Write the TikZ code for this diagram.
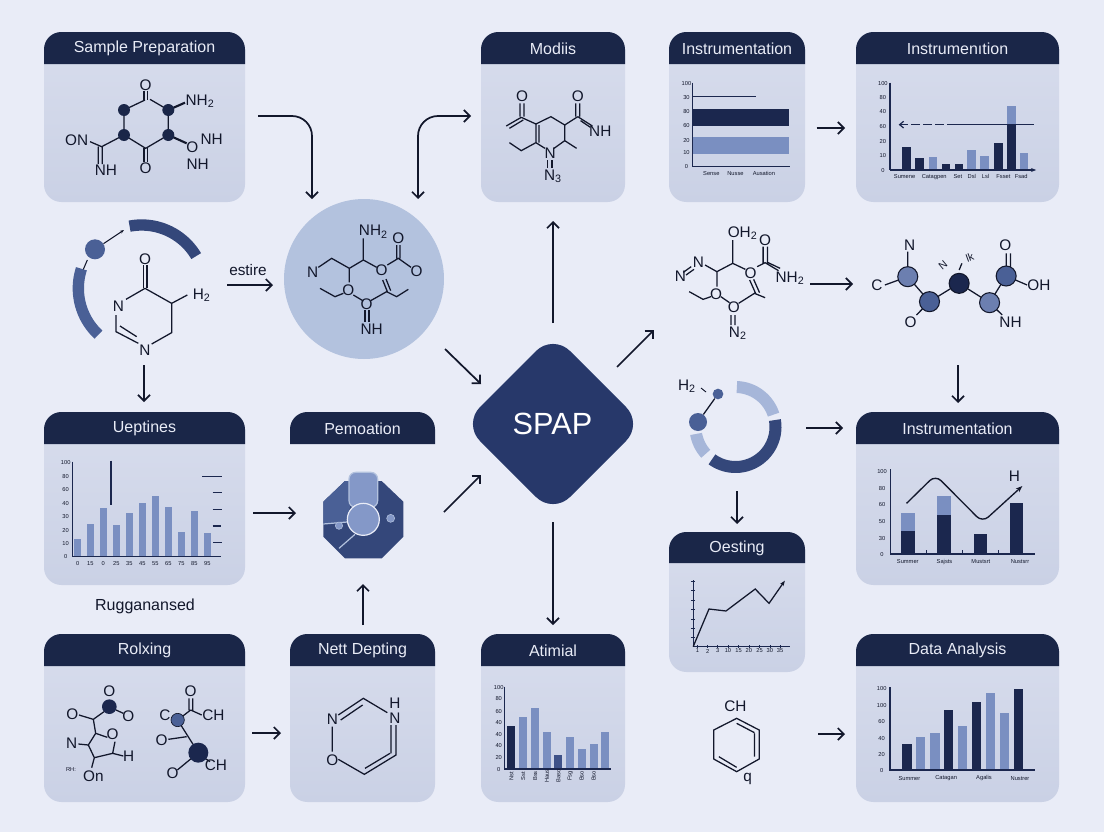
\documentclass[tikz,border=0pt]{standalone}
\usepackage{fontspec}
\setmainfont{Liberation Sans}
\usetikzlibrary{arrows.meta}
\definecolor{bgc}{HTML}{E9ECF7}
\definecolor{cardtop}{HTML}{D8DDED}
\definecolor{cardbot}{HTML}{CAD1E5}
\definecolor{headc}{HTML}{1A2648}
\definecolor{dk}{HTML}{1B274E}
\definecolor{lt}{HTML}{7A8FC1}
\definecolor{md}{HTML}{3F5288}
\definecolor{navy}{HTML}{27386A}
\definecolor{ink}{HTML}{12172B}
\definecolor{disc}{HTML}{B3C2DE}
\definecolor{ringd}{HTML}{34477A}
\definecolor{ringm}{HTML}{4A6096}
\definecolor{ringl}{HTML}{A6B6D9}
\definecolor{octl}{HTML}{8498C8}
\newcount\lblno
\newcommand\lbl[4][atom]{\global\advance\lblno by 1 \node[#1] (t\the\lblno) at (#2,#3) {#4};}
\newcommand\card[7]{%
  \path[cardbody,rounded corners=13pt] (#2,#3) rectangle (#4,#5);
  \fill[headc] (#2,#6) [rounded corners=13pt] -- (#2,#3) -- (#4,#3) [sharp corners] -- (#4,#6) -- cycle;
  \node[headtext] (#1) at ({(#2+#4)/2},{(#3+#6)/2+.5}) {#7};}
\newcommand\parc[6]{\draw[line width=#4pt,color=#5] plot[domain=#6,samples=40,smooth] ({#1+#3*cos(\x)},{#2-#3*sin(\x)});}
\newcommand\arr[5]{\coordinate (#1s) at (#2,#3); \coordinate (#1e) at (#4,#5); \draw[conn] (#1s) -- (#1e);}
\tikzset{
  zs/.style={shift={(#1)},x=.25pt,y=-.25pt},
  zw/.style={shift={(#1)},x=.2964pt,y=-.25pt},
  cardbody/.style={top color=cardtop,bottom color=cardbot},
  headtext/.style={text=bgc,font=\fontsize{12}{14}\selectfont,inner sep=0pt},
  atom/.style={text=ink,font=\fontsize{11.5}{14}\selectfont,inner sep=0pt},
  plain/.style={text=ink,font=\fontsize{12}{14}\selectfont,inner sep=0pt},
  small/.style={text=ink,font=\fontsize{8}{10}\selectfont,inner sep=0pt},
  tick/.style={text=ink,font=\fontsize{4.3}{5}\selectfont,inner sep=0pt},
  ball/.style={circle,draw=ink,line width=.8pt,minimum size=15pt,inner sep=0pt},
  bond/.style={draw=ink,line width=.95pt},
  axis/.style={draw=dk,line width=.9pt},
  conn/.style={draw=ink,line width=1.3pt,-{Straight Barb[length=4.5pt,width=9pt]}},
}
\begin{document}
\begin{tikzpicture}[x=.75pt,y=-.75pt]
\useasboundingbox (0,0) rectangle (1104,832);
\fill[bgc] (0,0) rectangle (1104,832);
% cards
\card{cSample}{44}{32}{245}{202}{64}{Sample Preparation}
\card{cModiis}{481}{32}{625}{202}{64}{Modiis}
\card{cInstA}{669}{32}{805}{202}{64}{Instrumentation}
\card{cInstB}{856}{32}{1059}{202}{64}{Instrumenıtion}
\card{cUept}{44}{412}{245}{585}{444}{Ueptines}
\card{cRol}{44}{634}{245}{802}{666}{Rolxing}
\card{cNett}{290}{634}{435}{802}{666}{Nett Depting}
\card{cAti}{481}{634}{625}{802}{666}{Atimial}
\card{cOes}{669}{532}{805}{672}{563}{Oesting}
\card{cInstC}{856}{412}{1059}{585}{444}{Instrumentation}
\card{cData}{856}{634}{1059}{802}{666}{Data Analysis}
% header without body
\fill[headc] (290,444) [rounded corners=13pt] -- (290,412) -- (435,412) [sharp corners] -- (435,444) -- cycle;
\node[headtext] (cPem) at (362.5,428.5) {Pemoation};
% central disc and diamond
\node[circle,fill=disc,minimum size=120pt,inner sep=0pt] (disc) at (364,279) {};
\fill[navy,rounded corners=18pt] (553,334) -- (643,424) -- (553,514) -- (463,424) -- cycle;
\node[text=white,font=\fontsize{23}{26}\selectfont,inner sep=0pt] (spap) at (552.5,424) {SPAP};
\lbl[plain]{145}{606}{Rugganansed}
\lbl{248}{270}{estire}
% ---- zoom1 coordinates
\begin{scope}[zs={30,20}]
% Sample prep molecule
\draw[bond] (345,240)--(282,270)--(282,345)--(347,385)--(415,345)--(415,270)--(360,238);
\draw[bond] (342,212)--(342,240) (352,212)--(352,240);
\draw[bond,line width=1.6pt] (415,270)--(465,248);
\draw[bond,line width=1.6pt] (415,345)--(470,370);
\draw[bond] (282,345)--(215,380)--(180,365) (205,380)--(205,432) (217,380)--(217,432);
\draw[bond] (342,385)--(342,425) (352,385)--(352,425);
\foreach \a/\b in {282/270,282/345,415/270,415/345}{\fill[headc] (\a,\b) circle (4.5pt);}
\lbl{347}{195}{O}\lbl{510}{243}{NH\textsubscript{2}}\lbl{140}{360}{ON}\lbl{228}{452}{NH}\lbl{347}{445}{O}\lbl{487}{382}{O}\lbl{545}{358}{NH}\lbl{503}{433}{NH}
% left ring
\parc{335}{805}{190}{8.5}{ringd}{30.6:101}
\parc{335}{805}{190}{8.5}{ringm}{162:227}
\node[circle,fill=ringm,minimum size=15pt,inner sep=0pt] (dotA) at (195,688) {};
\coordinate (dotAe) at (282,630);
\draw[draw=ink,line width=.8pt,-{Stealth[length=3pt]}] (dotA) -- (dotAe);
\draw[draw=ink,line width=.8pt] (160,748)--(172,720);
\draw[bond] (340,735)--(340,805) (351,735)--(351,805);
\draw[bond] (345,805)--(425,850)--(472,825) (425,850)--(425,938)--(365,972) (345,805)--(288,838);
\draw[bond] (258,885)--(258,935)--(325,970) (270,918)--(320,950);
\lbl{345}{718}{O}\lbl{515}{825}{H\textsubscript{2}}\lbl{265}{858}{N}\lbl{345}{990}{N}
% disc molecule
\draw[bond] (1000,655)--(1000,720)--(958,745)--(905,715)--(865,742);
\draw[bond] (1000,720)--(1040,742) (958,745)--(958,787);
\draw[bond] (1100,675)--(1100,715) (1110,675)--(1110,715) (1072,735)--(1105,715)--(1143,742);
\draw[bond] (870,805)--(915,830)--(940,820) (970,825)--(1000,843);
\draw[bond] (1022,842)--(1070,815)--(1100,830)--(1135,808) (1058,780)--(1072,815) (1068,777)--(1082,812);
\draw[bond] (1005,870)--(1005,905) (1017,870)--(1017,905);
\lbl{1030}{635}{NH\textsubscript{2}}\lbl{1105}{655}{O}\lbl{1160}{755}{O}\lbl{848}{757}{N}\lbl{1055}{752}{O}\lbl{955}{812}{O}\lbl{1010}{852}{O}\lbl{1025}{928}{NH}
\end{scope}
% ---- zoom3 coordinates
\begin{scope}[zs={30,400}]
% Ueptines chart
\foreach \p/\t in {143/417,181/372,220/325,259/375,298/340,337/310,376/288,415/320,454/397,493/333,532/400}{\fill[lt] (\p-10,468) rectangle (\p+10,\t);}
\draw[axis] (127,185)--(127,470)--(572,470);
\draw[axis] (243,182)--(243,315) (517,229)--(575,229) (548,278)--(575,278) (548,328)--(575,328) (548,378)--(572,378) (550,428)--(575,428);
\foreach \y/\t in {188/100,229/80,270/60,310/40,350/30,391/20,431/10,470/0}{\lbl[tick]{107}{\y}{\t}}
\foreach \x/\t in {143/0,181/15,220/0,259/25,298/35,337/45,376/55,415/65,454/75,493/85,532/95}{\lbl[tick]{\x}{490}{\t}}
% octagon
\fill[ringd] (945,243)--(1055,243)--(1120,305)--(1120,410)--(1055,475)--(945,475)--(880,410)--(880,305)--cycle;
\fill[ringm] (945,243)--(960,243)--(960,320)--(952,368)--(880,372)--(880,305)--cycle;
\draw[draw=disc,line width=.9pt] (880,372)--(952,366) (975,403)--(927,445);
\fill[octl,draw=disc,line width=.9pt,rounded corners=5pt] (957,217) rectangle (1043,322);
\node[circle,fill=octl,draw=bgc,line width=.9pt,minimum size=24pt,inner sep=0pt] (octC) at (1000,358) {};
\node[circle,fill=octl,draw=disc,line width=.4pt,minimum size=5.5pt,inner sep=0pt] (octA) at (927,377) {};
\node[circle,fill=octl,draw=disc,line width=.4pt,minimum size=6pt,inner sep=0pt] (octB) at (1082,355) {};
% Rolxing molecule 1
\draw[bond] (147,945)--(190,958)--(222,935) (258,930)--(280,940) (190,958)--(197,1000)--(232,1012) (197,1000)--(175,1035)--(193,1073)--(248,1060)--(255,1025) (145,1032)--(175,1035) (193,1073)--(185,1103) (248,1060)--(280,1068);
\node[circle,fill=dk,minimum size=11pt,inner sep=0pt] (rA) at (238,920) {};
\lbl{238}{873}{O}\lbl{127}{942}{O}\lbl{295}{948}{O}\lbl{248}{1003}{O}\lbl{125}{1030}{N}\lbl{296}{1070}{H}\lbl{190}{1128}{On}\lbl[tick]{123}{1110}{RH:}
% Rolxing molecule 2
\draw[bond] (477,895)--(477,930) (488,895)--(488,930) (482,930)--(443,960) (482,930)--(515,945) (443,960)--(505,1058) (415,1018)--(470,1010) (525,1075)--(540,1085) (505,1058)--(442,1110);
\node[circle,fill=ringm,draw=ink,line width=.5pt,minimum size=10pt,inner sep=0pt] (rB) at (443,960) {};
\node[circle,fill=dk,minimum size=15pt,inner sep=0pt] (rC) at (505,1058) {};
\lbl{482}{873}{O}\lbl{405}{945}{C}\lbl{550}{947}{CH}\lbl{395}{1020}{O}\lbl{558}{1095}{CH}\lbl{428}{1120}{O}
% Nett Depting molecule
\draw[bond] (925,945)--(1000,895)--(1072,938) (932,960)--(998,915);
\draw[bond] (1083,975)--(1083,1060) (1098,975)--(1098,1065)--(1003,1123)--(925,1078) (1080,1060)--(1005,1105) (907,980)--(907,1055);
\lbl{907}{957}{N}\lbl{1095}{910}{H}\lbl{1095}{955}{N}\lbl{907}{1080}{O}
\end{scope}
% ---- zoom2 coordinates
\begin{scope}[zw={460,20}]
% Modiis molecule
\draw[bond] (152,250)--(152,290) (162,250)--(162,290) (155,292)--(117,318) (160,300)--(125,325) (155,292)--(192,312)--(230,290)--(265,315)--(298,290);
\draw[bond] (293,250)--(293,290) (303,250)--(303,290) (298,290)--(335,318) (305,302)--(330,322);
\draw[bond] (265,315)--(265,362)--(238,385) (265,362)--(295,385) (192,312)--(192,368)--(215,385) (200,315)--(200,368) (192,368)--(155,392)--(125,368);
\draw[bond] (222,420)--(222,445) (233,420)--(233,445);
\lbl{157}{230}{O}\lbl{298}{230}{O}\lbl{355}{335}{NH}\lbl{228}{400}{N}\lbl{235}{468}{N\textsubscript{3}}
% Chart C
\fill[dk] (589,266) rectangle (833,318);
\fill[lt] (589,352) rectangle (833,402);
\draw[axis] (589,188)--(589,440)--(835,440) (589,230)--(750,230);
\foreach \y/\t in {190/100,233/30,276/80,318/60,361/20,398/10,440/0}{\lbl[tick]{573}{\y}{\t}}
\lbl[tick]{636}{460}{Sense}\lbl[tick]{697}{460}{Nusse}\lbl[tick]{769}{460}{Ausation}
% Chart D
\foreach \p/\t/\c in {1130/380/dk,1163/415/dk,1197/410/lt,1230/433/dk,1263/433/dk,1295/390/lt,1328/408/lt,1362/368/dk,1395/258/lt,1427/398/lt}{\fill[fill=\c] (\p-11,450) rectangle (\p+11,\t);}
\fill[dk] (1384,314) rectangle (1406,450);
\draw[axis] (1088,188)--(1088,450);
\draw[axis,-{Stealth[length=4pt]}] (1088,450)--(1458,450);
\coordinate (dashS) at (1255,314); \coordinate (dashE) at (1110,314); \coordinate (dashR) at (1452,314);
\draw[axis] (dashS)--(dashR);
\draw[axis,dash pattern=on 7pt off 2pt,-{Straight Barb[length=3pt,width=5pt]}] (dashS)--(dashE);
\foreach \y/\t in {190/100,233/80,276/40,320/60,364/20,408/10,452/0}{\lbl[tick]{1070}{\y}{\t}}
\foreach \x/\t in {1125/Sumene,1200/Catagpen,1260/Set,1295/Dsl,1330/Lsl,1375/Fsset,1420/Fsad}{\lbl[tick]{\x}{470}{\t}}
% OH2 molecule
\draw[bond] (690,660)--(690,730)--(650,755)--(620,735) (690,730)--(722,748) (650,755)--(650,800);
\draw[bond] (767,680)--(767,730) (778,680)--(778,730) (752,740)--(772,728)--(806,752) (780,728)--(810,745);
\draw[bond] (580,815)--(615,838)--(635,830) (660,830)--(682,848) (705,850)--(745,820)--(772,833) (733,780)--(748,820) (743,778)--(758,818);
\draw[bond] (686,885)--(686,915) (696,885)--(696,915) (565,757)--(585,740) (572,765)--(592,748);
\lbl{715}{640}{OH\textsubscript{2}}\lbl{772}{662}{O}\lbl{835}{775}{NH\textsubscript{2}}\lbl{603}{728}{N}\lbl{558}{770}{N}\lbl{735}{760}{O}\lbl{648}{822}{O}\lbl{693}{862}{O}\lbl{703}{940}{N\textsubscript{2}}
% ball molecule
\draw[bond] (1133,770)--(1188,845)--(1263,790)--(1340,848)--(1382,768)--(1382,700) (1393,768)--(1393,700) (1133,770)--(1133,695) (1133,770)--(1075,795) (1382,768)--(1435,795) (1340,848)--(1372,885) (1188,845)--(1155,885);
\draw[bond] (1263,750)--(1270,730);
\node[ball,fill=lt!85!dk] (bA) at (1133,770) {};
\node[ball,fill=ringm] (bB) at (1188,845) {};
\node[ball,fill=dk] (bC) at (1263,790) {};
\node[ball,fill=lt!85!dk] (bD) at (1340,848) {};
\node[ball,fill=ringm] (bE) at (1382,768) {};
\lbl{1055}{795}{C}\lbl{1138}{677}{N}\lbl{1380}{675}{O}\lbl{1465}{795}{OH}\lbl{1140}{908}{O}\lbl{1393}{908}{NH}
\lbl[small,rotate=40]{1222}{737}{N}\lbl[small,rotate=20]{1290}{712}{lk}
\end{scope}
% ---- zoom4 coordinates
\begin{scope}[zw={460,360}]
% Chart K
\foreach \p/\t in {1134/460,1225/408}{\fill[lt] (\p-17,582) rectangle (\p+17,\t);}
\foreach \p/\t in {1134/512,1225/465,1317/523,1408/430}{\fill[dk] (\p-17,582) rectangle (\p+17,\t);}
\draw[axis] (1090,328)--(1090,582)--(1455,582) (1180,570)--(1180,582) (1272,570)--(1272,582) (1363,570)--(1363,582);
\coordinate (kS) at (1130,430); \coordinate (kE) at (1423,378);
\draw[draw=ink,line width=1pt,-{Stealth[length=5pt]},rounded corners=6pt] (kS)--(1203,345)--(1322,487)--(kE);
\lbl{1403}{348}{H}
\foreach \y/\t in {334/100,385/80,435/60,486/50,536/30,584/0}{\lbl[tick]{1068}{\y}{\t}}
\foreach \x/\t in {1133/Summer,1226/Sajsts,1318/Mustsrt,1417/Nustsrr}{\lbl[tick]{\x}{605}{\t}}
% Chart I
\foreach \p/\t/\c in {130/1098/dk,160/1070/lt,190/1045/lt,220/1116/lt,249/1185/md,279/1130/lt,308/1167/lt,338/1151/lt,368/1116/lt}{\fill[fill=\c] (\p-10,1227) rectangle (\p+10,\t);}
\draw[axis] (113,980)--(113,1227)--(382,1227);
\foreach \y/\t in {983/100,1017/80,1054/60,1088/40,1123/40,1157/40,1193/20,1228/0}{\lbl[tick]{98}{\y}{\t}}
\foreach \x/\t in {130/Nst,160/Sst,190/Bss,220/Haus,249/Baso,279/Fsg,308/Bso,338/Bso}{\lbl[tick,rotate=90]{\x}{1248}{\t}}
% Chart L
\foreach \p/\t/\c in {1131/1151/dk,1166/1131/lt,1202/1118/lt,1237/1050/dk,1272/1099/lt,1307/1026/dk,1342/998/lt,1378/1058/lt,1413/986/dk}{\fill[fill=\c] (\p-11.5,1230) rectangle (\p+11.5,\t);}
\draw[axis] (1088,982)--(1088,1230)--(1455,1230);
\foreach \y/\t in {986/100,1036/100,1086/60,1136/40,1184/20,1233/0}{\lbl[tick]{1067}{\y}{\t}}
\foreach \x/\t in {1137/Summer,1230/Catagan,1326/Agalis,1417/Nustrer}{\lbl[tick]{\x}{1255}{\t}}
% Chart J
\draw[axis] (590,660)--(590,860)--(835,860);
\foreach \y in {664,692,720,749,777,805,833}{\draw[axis,line width=.5pt] (584,\y)--(594,\y);}
\foreach \x/\t in {601/1,627/2,652/3,678/10,705/15,731/20,758/25,784/30,810/35}{\draw[axis,line width=.5pt] (\x,855)--(\x,863);\lbl[tick]{\x}{873}{\t}}
\coordinate (jS) at (590,860); \coordinate (jE) at (822,662);
\draw[draw=ink,line width=.95pt,-{Stealth[length=4pt]}] (jS)--(630,747)--(673,753)--(747,687)--(782,730)--(jE);
% Benzene
\draw[bond] (700,1075)--(757,1110)--(757,1197)--(700,1235)--(642,1197)--(642,1110)--cycle;
\draw[bond] (700,1090)--(745,1118) (745,1120)--(745,1190) (655,1190)--(700,1222);
\lbl{697}{1040}{CH}\lbl{728}{1258}{q}
\end{scope}
% small ring, px coordinates
\parc{735.5}{427}{40}{9}{ringl}{18:88}
\parc{735.5}{427}{40}{9}{ringd}{-126:10}
\parc{735.5}{427}{40}{9}{ringl}{190:222}
\node[circle,fill=ringm,minimum size=13.5pt,inner sep=0pt] (ringA) at (698,422) {};
\node[circle,fill=ringm,minimum size=8pt,inner sep=0pt] (ringB) at (718,394) {};
\draw[bond] (ringA)--(ringB);
\coordinate (ringT) at (706,392);\coordinate (ringU) at (701,388);
\draw[bond,line width=.7pt] (ringU)--(ringT);
\lbl{687}{386}{H\textsubscript{2}}
% connectors
\coordinate (aS) at (258,116); \coordinate (aK) at (312,116); \coordinate (aE) at (312,199);
\draw[conn,rounded corners=15pt] (aS)--(aK)--(aE);
\coordinate (bS) at (471,116); \coordinate (bK) at (418,116); \coordinate (bE) at (418,199);
\draw[conn,{Straight Barb[length=4.5pt,width=9pt]}-{Straight Barb[length=4.5pt,width=9pt]},rounded corners=15pt] (bS)--(bK)--(bE);
\arr{c}{227}{285}{273}{285}
\arr{d}{144}{365}{144}{402}
\arr{e}{445}{349}{481}{384}
\arr{f}{553}{323}{553}{221}
\arr{g}{617}{367}{654}{330}
\arr{h}{444}{512}{481}{475}
\arr{i}{553}{522}{553}{625}
\arr{j}{253}{513}{296}{513}
\arr{k}{363}{625}{363}{584}
\arr{l}{252}{733}{281}{733}
\arr{m}{816.5}{128}{845}{128}
\arr{n}{810}{284}{853}{284}
\arr{o}{958}{365}{958}{403}
\arr{p}{806}{428}{843}{428}
\arr{q}{737}{491}{737}{524}
\arr{r}{818}{734}{845}{734}
\end{tikzpicture}
\end{document}
